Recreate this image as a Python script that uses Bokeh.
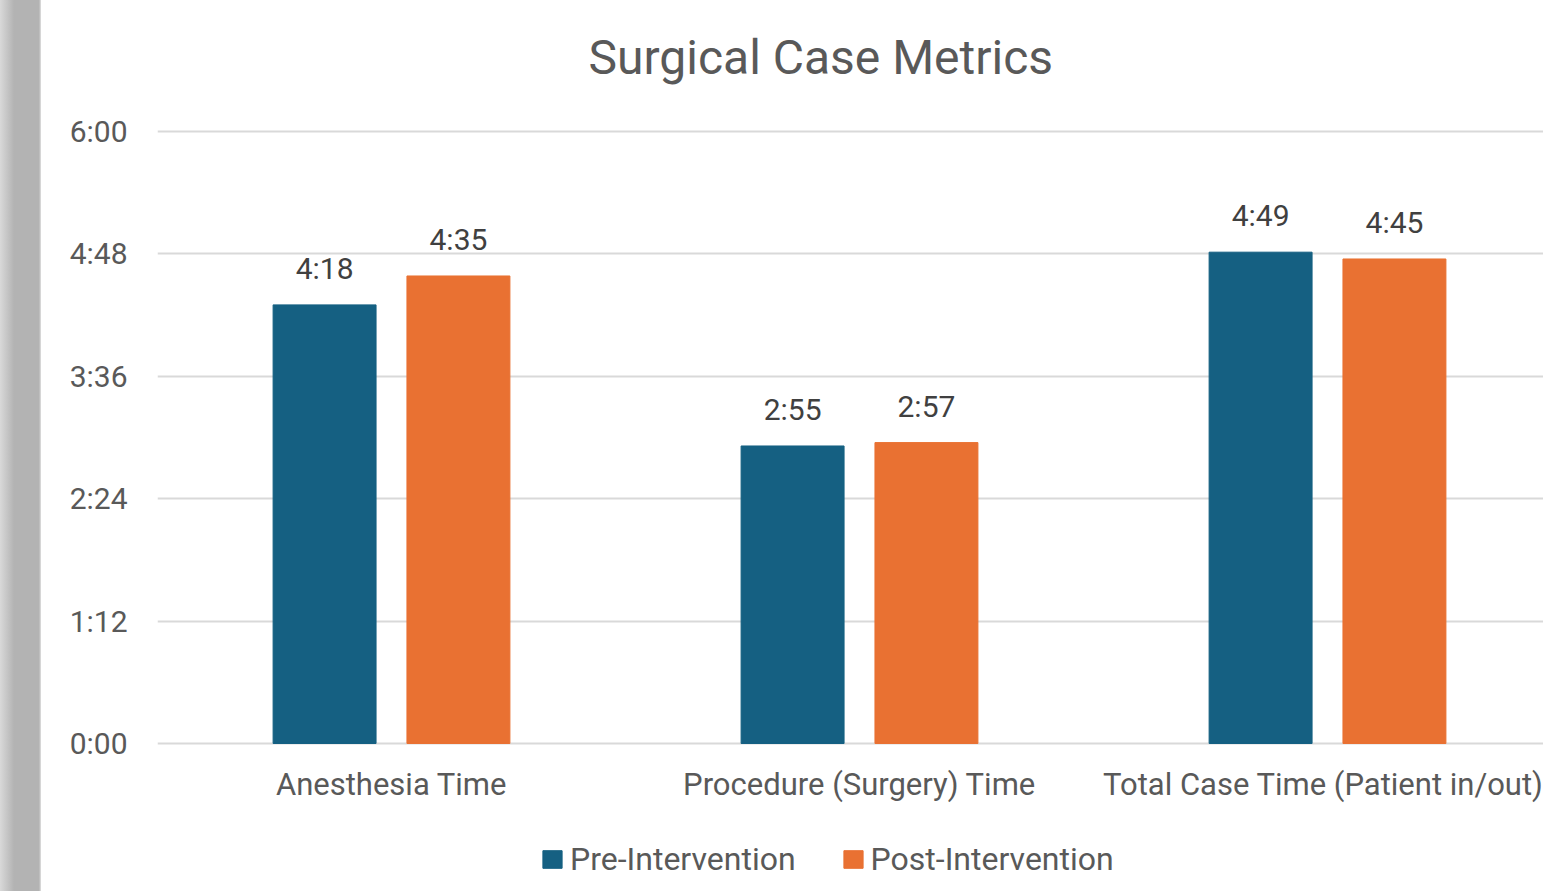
from bokeh.plotting import figure
from bokeh.layouts import row
from bokeh.models import Range1d, FixedTicker, Legend, LegendItem, ColumnDataSource, Div
from bokeh.core.properties import value
from bokeh.embed import file_html
from bokeh.resources import INLINE

categories = ["Anesthesia Time", "Procedure (Surgery) Time", "Total Case Time (Patient in/out)"]
series_names = ["Pre-Intervention", "Post-Intervention"]
pre_minutes = [258, 175, 289]
post_minutes = [275, 177, 285]
y_tick_minutes = [0, 72, 144, 216, 288, 360]
y_tick_labels = ["0:00", "1:12", "2:24", "3:36", "4:48", "6:00"]

FONT = "Roboto"
BLUE = "#156082"
ORANGE = "#E97132"


def fmt(m):
    return "%d:%02d" % (m // 60, m % 60)


centers = [i + 0.5 for i in range(len(categories))]
off = 0.143
bw = 0.22
src_pre = ColumnDataSource(dict(x=[c - off for c in centers], top=pre_minutes,
                                lab=[fmt(v) for v in pre_minutes]))
src_post = ColumnDataSource(dict(x=[c + off for c in centers], top=post_minutes,
                                 lab=[fmt(v) for v in post_minutes]))

# left decorative strip
strip = Div(text="", width=41, height=891, margin=0,
            styles={"background": "linear-gradient(to right, #d9d9d9 0px, #b3b3b3 14px, #b3b3b3 39px, #e2e2e2 41px)",
                    "width": "41px", "height": "891px"})

p = figure(width=1502, height=891, output_backend="svg", toolbar_location=None,
           x_range=Range1d(0, 2.9615), y_range=Range1d(-87.06, 384.1),
           min_border_left=116, min_border_right=0, min_border_top=90, min_border_bottom=0,
           outline_line_color=None, background_fill_color="white", border_fill_color="white")

p.title.text = "Surgical Case Metrics"
p.title.align = "left"
p.title.offset = 431
p.title.text_font = FONT
p.title.text_font_size = "48px"
p.title.text_font_style = "normal"
p.title.text_color = "#595959"
p.title.standoff = 10

r_pre = p.vbar(x="x", top="top", width=bw, bottom=0, source=src_pre, color=BLUE)
r_post = p.vbar(x="x", top="top", width=bw, bottom=0, source=src_post, color=ORANGE)

for s in (src_pre, src_post):
    p.text(x="x", y="top", text="lab", source=s, text_align="center", text_baseline="bottom",
           y_offset=-19, text_font=value(FONT), text_font_size="30px", text_color="#404040")

p.xaxis.fixed_location = 0
p.xaxis.ticker = FixedTicker(ticks=centers)
p.xaxis.major_label_overrides = {c: lab for c, lab in zip(centers, categories)}
p.xaxis.axis_line_color = None
p.xaxis.major_tick_line_color = None
p.xaxis.minor_tick_line_color = None
p.xaxis.major_label_text_font = FONT
p.xaxis.major_label_text_font_size = "31px"
p.xaxis.major_label_text_color = "#595959"
p.xaxis.major_label_standoff = 17

p.yaxis.ticker = FixedTicker(ticks=y_tick_minutes)
p.yaxis.major_label_overrides = {t: lab for t, lab in zip(y_tick_minutes, y_tick_labels)}
p.yaxis.axis_line_color = None
p.yaxis.major_tick_line_color = None
p.yaxis.minor_tick_line_color = None
p.yaxis.major_label_text_font = FONT
p.yaxis.major_label_text_font_size = "30px"
p.yaxis.major_label_text_color = "#595959"
p.yaxis.major_label_standoff = 24

p.xgrid.visible = False
p.ygrid.grid_line_color = "#d9d9d9"
p.ygrid.grid_line_width = 2

legend = Legend(items=[LegendItem(label=series_names[0], renderers=[r_pre]),
                       LegendItem(label=series_names[1], renderers=[r_post])],
                orientation="horizontal", location=(383, 13),
                border_line_color=None, background_fill_alpha=0,
                padding=5, margin=0, spacing=45, label_standoff=6,
                glyph_width=24, glyph_height=22, label_height=30,
                label_text_font=FONT, label_text_font_size="32px", label_text_color="#595959")
p.add_layout(legend, "center")

layout = row(strip, p, spacing=0)
open("out.html", "w").write(file_html(layout, INLINE))
